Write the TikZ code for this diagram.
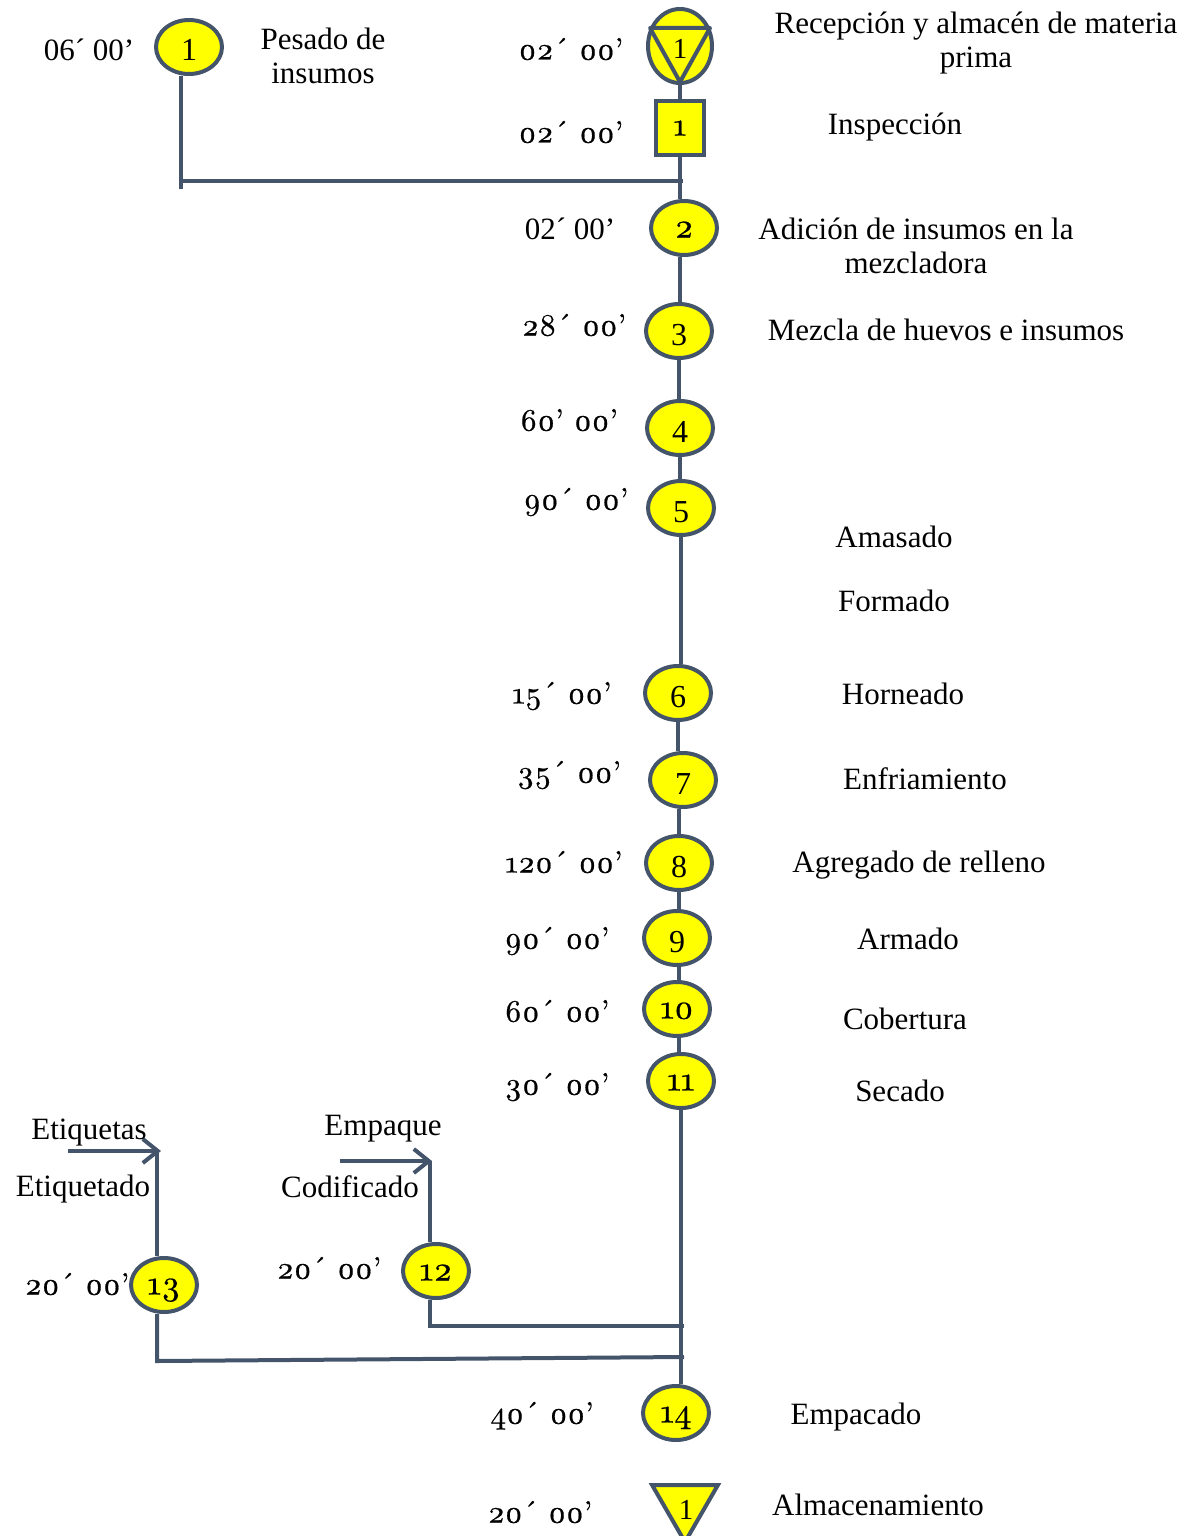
\documentclass[tikz,border=0pt]{standalone}
\usepackage{fontspec}
\setmainfont{Liberation Serif}
\newfontfamily\osf{lmroman10-regular.otf}[Numbers=OldStyle,FakeBold=0.6]
\usetikzlibrary{shapes.geometric,arrows.meta}
\definecolor{flowline}{HTML}{44546A}
\definecolor{flowfill}{HTML}{FFFF00}
\pgfdeclarelayer{bg}
\pgfsetlayers{bg,main}

\begin{document}
\begin{tikzpicture}[x=1pt,y=-1pt,
  op/.style={ellipse,draw=flowline,line width=4pt,fill=flowfill,
    minimum width=66pt,minimum height=54pt,inner sep=0pt,
    text height=28pt,text depth=0pt,
    font=\fontsize{32}{34}\selectfont},
  opo/.style={op,text height=19pt,font=\osf\fontsize{34}{36}\selectfont},
  insp/.style={rectangle,draw=flowline,line width=4pt,fill=flowfill,
    minimum width=48pt,minimum height=54pt,inner sep=0pt,
    font=\osf\fontsize{32}{34}\selectfont},
  store/.style={regular polygon,regular polygon sides=3,shape border rotate=180,
    draw=flowline,line width=4pt,fill=flowfill,minimum size=76pt,inner sep=0pt},
  num/.style={inner sep=0pt,font=\fontsize{29}{30}\selectfont},
  flow/.style={draw=flowline,line width=4pt},
  feed/.style={flow,-{Straight Barb[length=15pt,width=24pt]}},
  lbl/.style={inner sep=0pt,text height=0.72em,text depth=0.22em,yshift=-8pt,
    font=\fontsize{31}{34}\selectfont},
  lbltwo/.style={inner sep=0pt,align=center,yshift=-2pt,
    font=\fontsize{31}{34}\selectfont},
  tm/.style={inner sep=0pt,text height=0.72em,text depth=0.22em,yshift=-7pt,
    font=\osf\fontsize{31}{34}\selectfont},
  tmlin/.style={lbl}
]
\useasboundingbox (0,0) rectangle (1188,1536);

% ---- symbols of the main line ----
\node[op,minimum width=64pt,minimum height=74pt] (t1) at (680,46) {};
\draw[flow,line join=round] (650,28) -- (710,28) -- (680,82) -- cycle;
\node[num] (t1n) at (680,49) {1};
\node[insp] (s1) at (680,128) {1};
\node[opo] (n2) at (684,228) {2};
\node[op] (n3) at (679,331) {3};
\node[op] (n4) at (680,428) {4};
\node[op] (n5) at (681,508) {5};
\node[op] (n6) at (678,693) {6};
\node[op] (n7) at (683,780) {7};
\node[op] (n8) at (679,863) {8};
\node[op] (n9) at (677,938) {9};
\node[opo] (n10) at (677,1009) {10};
\node[opo] (n11) at (681,1081) {11};
\node[opo] (n14) at (676,1413) {14};
\node[store] (a1) at (685,1504) {};
\node[num] (a1n) at (686,1510) {1};

% ---- side branches ----
\node[op] (p1) at (189,47) {1};
\node[opo] (n12) at (436,1271) {12};
\node[opo] (n13) at (164,1285) {13};

\coordinate (pFoot) at (181,189);
\coordinate (pCorner) at (181,181);
\coordinate (pJoin) at (683,181);

\coordinate (eqStart) at (340,1161);
\coordinate (eqTip) at (432,1161);
\coordinate (eqCorner) at (430,1326);
\coordinate (eqJoin) at (684,1326);

\coordinate (etStart) at (68,1151);
\coordinate (etTip) at (161,1151);
\coordinate (etCorner) at (157,1361);
\coordinate (etJoin) at (684,1357);

\begin{pgfonlayer}{bg}
  % main line
  \draw[flow] (t1.south) -- (s1.north);
  \draw[flow] (s1.south) -- (s1.south |- n2.north);
  \draw[flow] (n2.south -| s1) -- (s1 |- n3.north);
  \draw[flow] (n3.south) -- (n3.south |- n4.north);
  \draw[flow] (n4.south) -- (n4.south |- n5.north);
  \draw[flow] (n5.south) -- (n5.south |- n6.north);
  \draw[flow] (n6.south) -- (n6.south |- n7.north);
  \draw[flow] (n7.south -| n8) -- (n8.north);
  \draw[flow] (n8.south) -- (n8.south |- n9.north);
  \draw[flow] (n9.south -| n8) -- (n8 |- n10.north);
  \draw[flow] (n10.south -| n8) -- (n8 |- n11.north);
  \draw[flow] (n11.south) -- (n11.south |- n14.north);
  % weighing of ingredients
  \draw[flow] (p1.south -| pFoot) -- (pFoot);
  \draw[flow] (pCorner) -- (pJoin);
  % packaging material and coding
  \draw[feed] (eqStart) -- (eqTip);
  \draw[flow] (eqTip -| eqCorner) -- (n12.north -| eqCorner);
  \draw[flow] (n12.south -| eqCorner) -- (eqCorner) -- (eqJoin);
  % labels and labelling
  \draw[feed] (etStart) -- (etTip);
  \draw[flow] (etTip -| etCorner) -- (n13.north -| etCorner);
  \draw[flow] (n13.south -| etCorner) -- (etCorner) -- (etJoin);
\end{pgfonlayer}

% ---- times ----
\node[tmlin] (tp1) at (89,50) {06´ 00’};
\node[tm] (tt1) at (571,50) {02´ 00’};
\node[tm] (ts1) at (571,133) {02´ 00’};
\node[tmlin] (t2) at (570,229) {02´ 00’};
\node[tm] (t3) at (574,326) {28´ 00’};
\node[tm] (t4) at (569,421) {60’ 00’};
\node[tm] (t5) at (576,500) {90´ 00’};
\node[tm] (t6) at (562,694) {15´ 00’};
\node[tm] (t7) at (569,773) {35´ 00’};
\node[tm] (t8) at (564,863) {120´ 00’};
\node[tm] (t9) at (557,939) {90´ 00’};
\node[tm] (t10) at (557,1012) {60´ 00’};
\node[tm] (t11) at (557,1085) {30´ 00’};
\node[tm] (t12) at (329,1269) {20´ 00’};
\node[tm] (t13) at (77,1285) {20´ 00’};
\node[tm] (t14) at (542,1414) {40´ 00’};
\node[tm] (ta1) at (540,1513) {20´ 00’};

% ---- activity names ----
\node[lbltwo] (lp1) at (323,54) {Pesado de\\insumos};
\node[lbltwo] (lt1) at (976,41) {Recepción y almacén de materia\\prima};
\node[lbl] (ls1) at (895,124) {Inspección};
\node[lbltwo] (l2) at (916,244) {Adición de insumos en la\\mezcladora};
\node[lbl] (l3) at (946,330) {Mezcla de huevos e insumos};
\node[lbl] (l5a) at (894,537) {Amasado};
\node[lbl] (l5b) at (894,601) {Formado};
\node[lbl] (l6) at (903,694) {Horneado};
\node[lbl] (l7) at (925,779) {Enfriamiento};
\node[lbl] (l8) at (919,862) {Agregado de relleno};
\node[lbl] (l9) at (908,939) {Armado};
\node[lbl] (l10) at (905,1019) {Cobertura};
\node[lbl] (l11) at (900,1091) {Secado};
\node[lbl] (l14) at (856,1414) {Empacado};
\node[lbl] (la1) at (878,1505) {Almacenamiento};
\node[lbl] (let) at (89,1129) {Etiquetas};
\node[lbl] (l13) at (83,1186) {Etiquetado};
\node[lbl] (leq) at (383,1125) {Empaque};
\node[lbl] (l12) at (350,1187) {Codificado};
\end{tikzpicture}
\end{document}
